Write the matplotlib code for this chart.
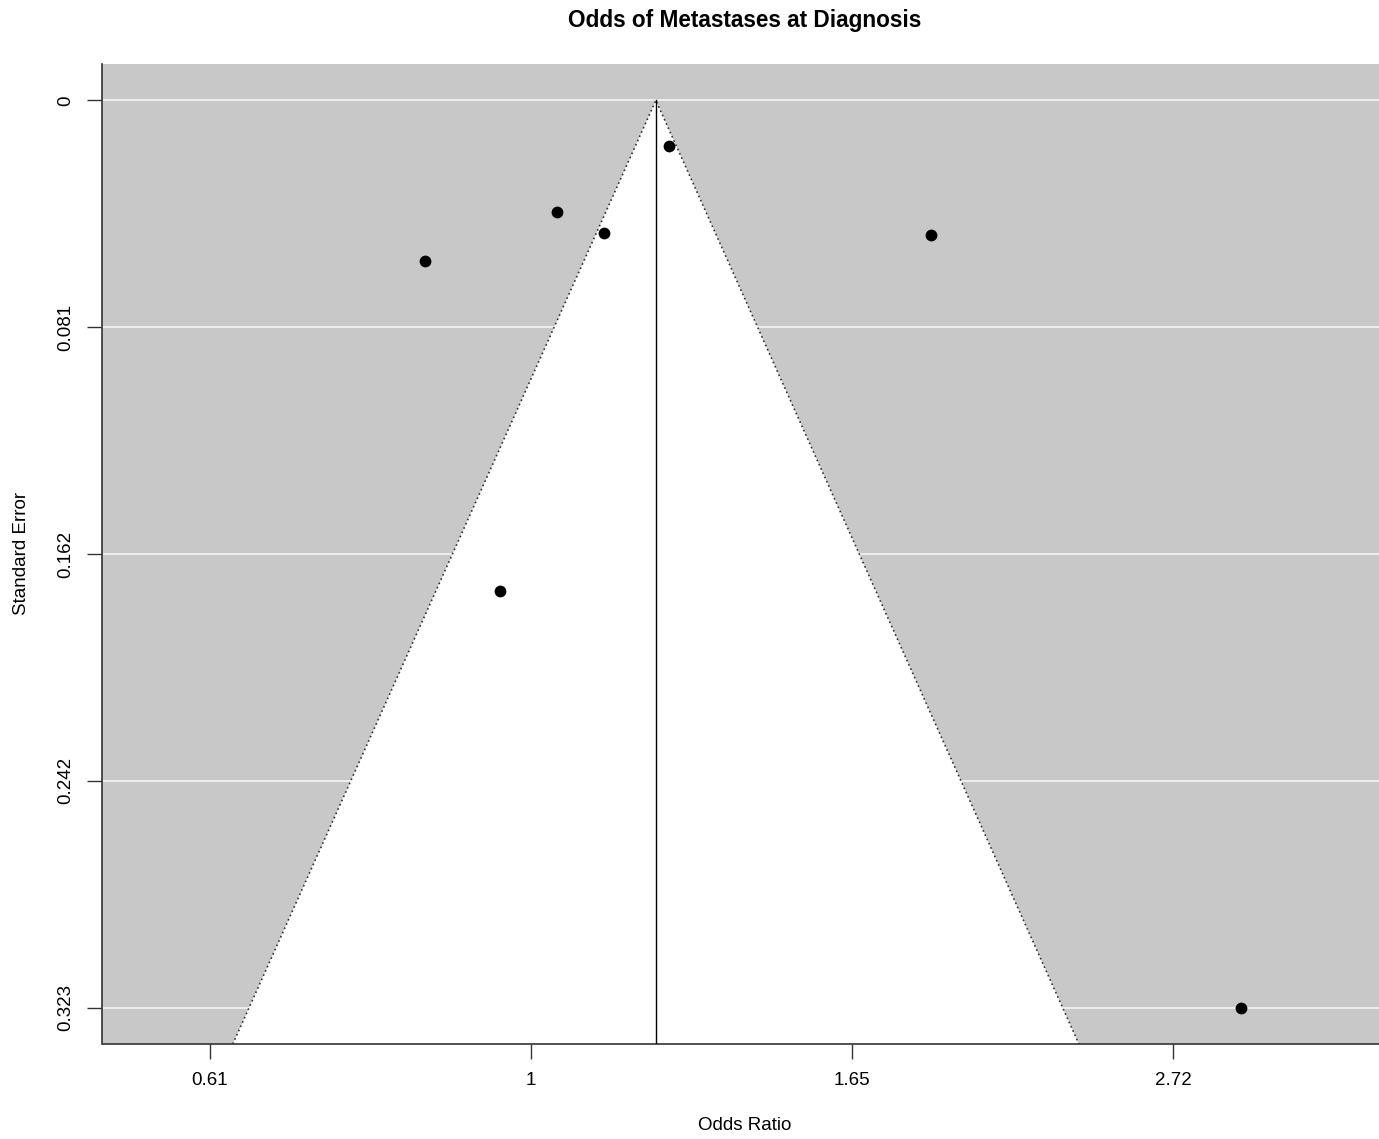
import numpy as np
import matplotlib
matplotlib.use("Agg")
from matplotlib import pyplot as plt

plt.rcParams['font.family'] = ['Liberation Sans', 'DejaVu Sans']

# study estimates (log odds ratio) and their standard errors
yi = [0.2147, 0.0405, 0.1136, 0.6224, -0.1649, -0.0482, 1.1063]
sei = [0.0164, 0.0397, 0.0472, 0.0479, 0.0571, 0.1750, 0.3233]
pooled = 0.1945

xtick_pos = [-0.5, 0.0, 0.5, 1.0]
xtick_labels = ["0.61", "1", "1.65", "2.72"]

se_max = max(sei)
ytick_pos = np.linspace(0, se_max, 5)
ytick_labels = ["0", "0.081", "0.162", "0.242", "0.323"]

W, H = 1379, 1139
fig = plt.figure(figsize=(W / 100, H / 100), dpi=100)
left, right, bottom, top = 102.5, 1388, 1044, 64
ax = fig.add_axes([left / W, (H - bottom) / H, (right - left) / W, (bottom - top) / H])

ylo, yhi = -0.04 * se_max, se_max * 1.04
xlo, xhi = -0.6675, 1.335
ax.set_xlim(xlo, xhi)
ax.set_ylim(yhi, ylo)

ax.set_facecolor("#c8c8c8")
for y in ytick_pos:
    ax.axhline(y, color="#f2f2f2", lw=1.3, zorder=1)

# pseudo confidence region
se_b = yhi
ax.fill([pooled - 1.96 * se_b, pooled, pooled + 1.96 * se_b], [se_b, 0, se_b],
        color="white", zorder=2, lw=0)
ax.plot([pooled - 1.96 * se_b, pooled, pooled + 1.96 * se_b], [se_b, 0, se_b],
        color="#333333", lw=1.2, ls=(0, (1, 1.8)), zorder=3)
ax.plot([pooled, pooled], [0, se_b], color="black", lw=1.0, zorder=3)

ax.scatter(yi, sei, s=72, color="black", zorder=4, linewidths=0)

for s in ["top", "right"]:
    ax.spines[s].set_visible(False)
for s in ["left", "bottom"]:
    ax.spines[s].set_color("#333333")
    ax.spines[s].set_linewidth(1.2)

ax.set_xticks(xtick_pos)
ax.set_xticklabels(xtick_labels, fontsize=13.5)
ax.set_yticks(ytick_pos)
ax.set_yticklabels(ytick_labels, fontsize=13.5, rotation=90, va="center")
ax.tick_params(length=11, width=1, color="#333333", pad=9)

fig.text(745 / W, 1 - 1125 / H, "Odds Ratio", ha="center", va="center", fontsize=13.5)
fig.text(22 / W, 1 - 553 / H, "Standard Error", ha="center", va="center",
         rotation=90, fontsize=13.5)
fig.text(745 / W, 1 - 20 / H, "Odds of Metastases at Diagnosis", ha="center",
         va="center", fontsize=16.3, fontweight="bold")

fig.savefig("out.png", dpi=100, facecolor="white")
